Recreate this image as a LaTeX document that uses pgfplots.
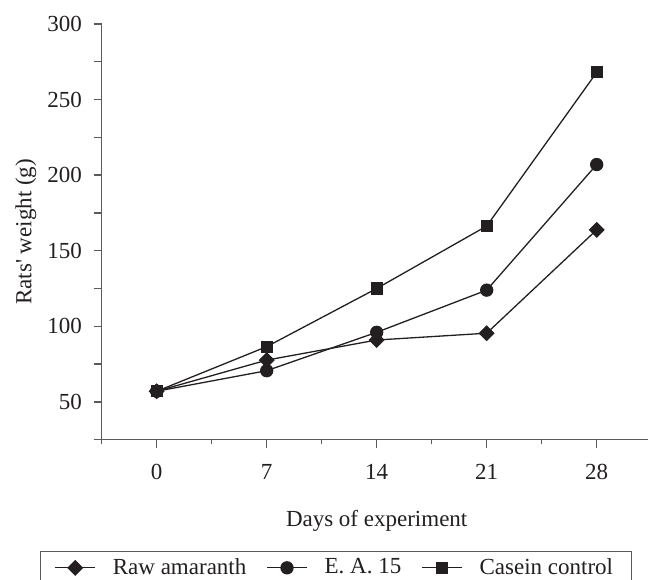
\documentclass[border=0pt,11pt]{standalone}
\usepackage{fontspec}
\setmainfont{Liberation Serif}
\usepackage{pgfplots}
\pgfplotsset{compat=1.18}
\definecolor{ink}{HTML}{231F20}
\definecolor{axgray}{HTML}{5A5A5A}
\begin{document}
\begin{tikzpicture}
\begin{axis}[
  name=ax,
  scale only axis,
  width=275pt, height=207.8pt,
  xmin=-3.5, xmax=31.5,
  ymin=25, ymax=300,
  axis x line*=bottom, axis y line*=left,
  axis line style={axgray, line width=0.7pt, -},
  xtick={0,7,14,21,28},
  minor xtick={-3.5,3.5,10.5,17.5,24.5,31.5},
  ytick={25,50,75,100,125,150,175,200,225,250,275,300},
  yticklabels={,50,,100,,150,,200,,250,,300},
  tick style={axgray, line width=0.7pt},
  major tick length=4pt, minor tick length=2.2pt,
  tick align=outside,
  /pgf/number format/assume math mode=true,
  ticklabel style={font=\fontsize{11.5}{13.5}\selectfont, text=ink},
  xticklabel style={yshift=-4.5pt},
  yticklabel style={xshift=-2pt},
  xlabel={Days of experiment},
  ylabel={Rats\textquotesingle{} weight (g)},
  label style={font=\fontsize{11.5}{13.5}\selectfont, text=ink},
  xlabel style={at={(axis description cs:0.5,-0.195)}, anchor=center},
  ylabel style={at={(axis description cs:-0.138,0.5)}, anchor=center},
  legend columns=3,
  legend image code/.code={
    \draw[mark repeat=2, mark phase=2] plot coordinates {(0pt,0pt) (10pt,0pt) (20pt,0pt)};
  },
  legend style={
    at={(0,0)}, anchor=north west, xshift=-30.85pt, yshift=-55.75pt,
    draw=axgray, line width=0.6pt,
    font=\fontsize{11.5}{13.5}\selectfont, text=ink,
    inner xsep=7pt, inner ysep=1.25pt,
    /tikz/every odd column/.append style={column sep=6.5pt},
    /tikz/every even column/.append style={column sep=8pt},
  },
  legend cell align=left,
]
\addplot[ink, line width=0.65pt, mark=square*, mark size=2.5pt, mark options={solid, fill=ink, rotate=45}]
  coordinates {(0,57) (7,77.6) (14,90.9) (21,95.4) (28,163.8)};
\addlegendentry{Raw amaranth}
\addplot[ink, line width=0.65pt, mark=*, mark size=3pt, mark options={solid, fill=ink}]
  coordinates {(0,57) (7,70.6) (14,96) (21,123.9) (28,207)};
\addlegendentry{E. A. 15}
\addplot[ink, line width=0.65pt, mark=square*, mark size=2.7pt, mark options={solid, fill=ink}]
  coordinates {(0,57) (7,86.5) (14,125) (21,166.3) (28,268)};
\addlegendentry{Casein control}
\end{axis}
\pgfresetboundingbox
\path[use as bounding box] ([xshift=-50.85pt,yshift=-69.75pt]ax.south west) rectangle ([xshift=273.15pt,yshift=219.8pt]ax.south west);
\end{tikzpicture}
\end{document}
